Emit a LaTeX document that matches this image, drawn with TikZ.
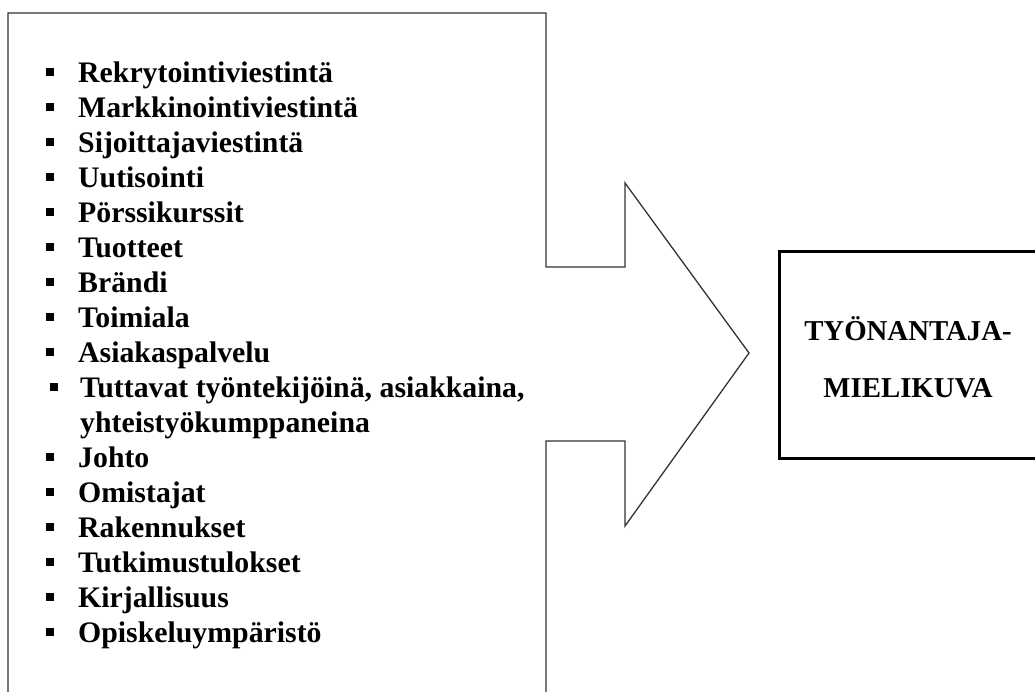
\documentclass[tikz,border=0pt]{standalone}
\usepackage{fontspec}
\setmainfont{Liberation Serif}
\begin{document}
\begin{tikzpicture}[x=1pt,y=-1pt,
  item/.style={anchor=base west, inner sep=0pt, font=\fontsize{29.8}{35}\selectfont\bfseries},
  bul/.style={fill=black, minimum size=8pt, inner sep=0pt, anchor=center},
  title/.style={anchor=base, inner sep=0pt, font=\fontsize{28.8}{35}\selectfont\bfseries},
  outline/.style={draw=black!80, line width=1.3pt, line join=miter},
  frame/.style={draw=black, line width=3pt}]
\useasboundingbox (0,0) rectangle (1035,691);
% left box with arrow
\coordinate (bl) at (8,700);
\coordinate (tl) at (8,13);
\coordinate (tr) at (546,13);
\coordinate (s1) at (546,267);
\coordinate (a1) at (625,267);
\coordinate (a2) at (625,183);
\coordinate (tip) at (749,353);
\coordinate (a3) at (625,526);
\coordinate (a4) at (625,441);
\coordinate (s2) at (546,441);
\coordinate (br) at (546,700);
\draw[outline] (bl) -- (tl) -- (tr) -- (s1) -- (a1) -- (a2) -- (tip) -- (a3) -- (a4) -- (s2) -- (br);
% right box
\coordinate (r1) at (779,251);
\coordinate (r2) at (1038,458);
\draw[frame] (r1) rectangle (r2);
\node[title] (t1) at (908,340) {TYÖNANTAJA-};
\node[title] (t2) at (908,397) {MIELIKUVA};
% list
\node[item] (l1) at (78,82) {Rekrytointiviestintä};
\node[item] (l2) at (78,117) {Markkinointiviestintä};
\node[item] (l3) at (78,152) {Sijoittajaviestintä};
\node[item] (l4) at (78,187) {Uutisointi};
\node[item] (l5) at (78,222) {Pörssikurssit};
\node[item] (l6) at (78,257) {Tuotteet};
\node[item] (l7) at (78,292) {Brändi};
\node[item] (l8) at (78,327) {Toimiala};
\node[item] (l9) at (78,362) {Asiakaspalvelu};
\node[item] (l10) at (80,397) {Tuttavat työntekijöinä, asiakkaina,};
\node[item] (l11) at (80,432) {yhteistyökumppaneina};
\node[item] (l12) at (78,467) {Johto};
\node[item] (l13) at (78,502) {Omistajat};
\node[item] (l14) at (78,537) {Rakennukset};
\node[item] (l15) at (78,572) {Tutkimustulokset};
\node[item] (l16) at (78,607) {Kirjallisuus};
\node[item] (l17) at (78,642) {Opiskeluympäristö};
\foreach \n/\y in {1/72,2/107,3/142,4/177,5/212,6/247,7/282,8/317,9/352,12/457,13/492,14/527,15/562,16/597,17/632}
  \node[bul] (b\n) at (49.5,\y) {};
\node[bul] (b10) at (54,387) {};
\end{tikzpicture}
\end{document}
